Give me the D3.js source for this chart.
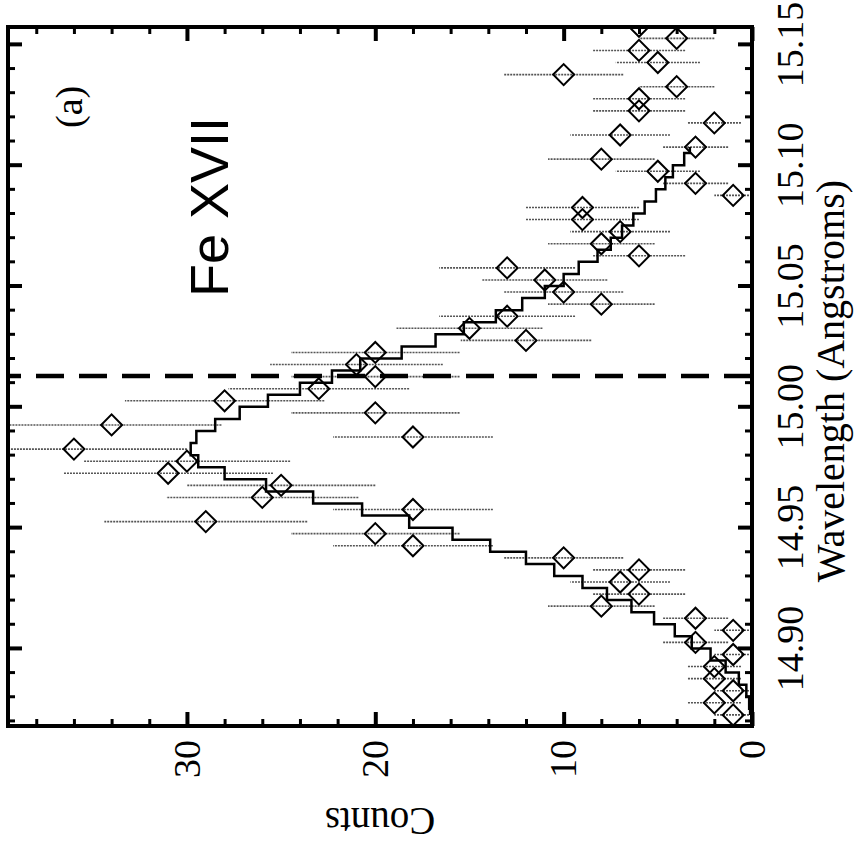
<!DOCTYPE html>
<html>
<head>
<meta charset="utf-8">
<script src="https://cdn.jsdelivr.net/npm/d3@7"></script>
<style>
  body { margin: 0; background: #fff; }
  svg { display: block; }
</style>
</head>
<body>
<svg id="chart" width="856" height="848"></svg>
<script>
// measured spectrum bins (Angstroms) and observed counts
const wavelengths = [
  14.8727, 14.8777, 14.8827, 14.8877, 14.8927, 14.8977, 14.9027, 14.9077, 14.9127, 14.9177,
  14.9227, 14.9277, 14.9327, 14.9377, 14.9427, 14.9477, 14.9527, 14.9577, 14.9627, 14.9677,
  14.9727, 14.9777, 14.9827, 14.9877, 14.9927, 14.9977, 15.0027, 15.0077, 15.0127, 15.0177,
  15.0227, 15.0277, 15.0327, 15.0377, 15.0427, 15.0477, 15.0527, 15.0577, 15.0627, 15.0677,
  15.0727, 15.0777, 15.0827, 15.0877, 15.0927, 15.0977, 15.1027, 15.1077, 15.1127, 15.1177,
  15.1227, 15.1277, 15.1327, 15.1377, 15.1427, 15.1477, 15.1527, 15.1577
];
const counts = [
  1, 2, 1, 2, 2, 1, 3, 1, 3, 8,
  6, 7, 6, 10, 18, 20, 29, 18, 26, 25,
  31, 30, 36, 18, 34, 20, 28, 23, 20, 21,
  20, 12, 15, 13, 8, 10, 11, 13, 6, 8,
  7, 9, 9, 1, 3, 5, 8, 3, 7, 2,
  6, 6, 4, 10, 5, 6, 4, 6
];
// model histogram (same bins, first 48)
const modelCounts = [
  0.1, 0.15, 0.3, 0.7, 1.4, 2.2, 3.2, 4.1, 5.2, 6.4,
  7.7, 9.0, 10.5, 12.0, 13.9, 15.9, 18.2, 20.7, 23.3, 25.8,
  28.0, 29.4, 29.8, 29.5, 28.5, 27.2, 25.7, 24.0, 22.3, 20.8,
  18.6, 16.8, 15.3, 13.6, 12.2, 11.0, 10.0, 9.2, 8.2, 7.5,
  6.9, 6.3, 5.7, 5.1, 4.6, 4.2, 3.6, 3.3
];
const lineCenter = 15.013;
const waveMajorTicks = [14.90, 14.95, 15.00, 15.05, 15.10, 15.15];
const waveMinorTicks = [14.87, 14.88, 14.89, 14.91, 14.92, 14.93, 14.94, 14.96, 14.97, 14.98, 14.99,
  15.01, 15.02, 15.03, 15.04, 15.06, 15.07, 15.08, 15.09, 15.11, 15.12, 15.13, 15.14];
const countMajorTicks = [0, 10, 20, 30];
const countMinorTicks = [2, 4, 6, 8, 12, 14, 16, 18, 22, 24, 26, 28, 32, 34, 36, 38];

const W = 699;
const H = 744;
const serif = "'Liberation Serif', 'Times New Roman', serif";
const sans = "'Liberation Sans', Arial, sans-serif";

const svg = d3.select("#chart");
svg.append("rect").attr("width", 856).attr("height", 848).attr("fill", "#fff");

// the whole figure is drawn upright, then turned a quarter left
const g = svg.append("g").attr("transform", "translate(8,726) rotate(-90)");

const x = d3.scaleLinear().domain([14.8681, 15.1574]).range([0, W]);
const y = d3.scaleLinear().domain([0, 39.5]).range([H, 0]);

g.append("clipPath")
  .attr("id", "plotClip")
  .append("rect")
  .attr("width", W)
  .attr("height", H);

function drawAxis(axis, transform, values, size, width, labels) {
  const a = g.append("g")
    .attr("transform", transform)
    .call(axis.tickValues(values).tickSize(-size).tickPadding(labels ? labels.pad : 0)
      .tickFormat(labels ? labels.format : ""));
  a.select(".domain").remove();
  a.selectAll(".tick line").attr("stroke", "#000").attr("stroke-width", width);
  a.selectAll(".tick text")
    .attr("fill", "#000")
    .style("font-family", serif)
    .style("font-size", "38px");
  return a;
}

// wavelength axis (bottom) + mirror (top)
drawAxis(d3.axisBottom(x), `translate(0,${H})`, waveMajorTicks, 14, 4, { pad: 24, format: d3.format(".2f") });
drawAxis(d3.axisBottom(x), `translate(0,${H})`, waveMinorTicks, 7, 3);
drawAxis(d3.axisTop(x), "translate(0,0)", waveMajorTicks, 14, 4);
drawAxis(d3.axisTop(x), "translate(0,0)", waveMinorTicks, 7, 3);

// counts axis (left) + mirror (right)
drawAxis(d3.axisLeft(y), "translate(0,0)", countMajorTicks, 14, 4, { pad: 14, format: d3.format("d") });
drawAxis(d3.axisLeft(y), "translate(0,0)", countMinorTicks, 7, 3);
drawAxis(d3.axisRight(y), `translate(${W},0)`, countMajorTicks, 14, 4);
drawAxis(d3.axisRight(y), `translate(${W},0)`, countMinorTicks, 7, 3);

const data = wavelengths.map((w, i) => ({ w, c: counts[i] }));
const model = modelCounts.map((c, i) => ({ w: wavelengths[i], c }));

const plot = g.append("g").attr("clip-path", "url(#plotClip)");

// error bars (sqrt N)
plot.selectAll("line.err")
  .data(data)
  .enter()
  .append("line")
  .attr("class", "err")
  .attr("x1", d => x(d.w))
  .attr("x2", d => x(d.w))
  .attr("y1", d => y(d.c - Math.sqrt(d.c)))
  .attr("y2", d => y(d.c + Math.sqrt(d.c)))
  .attr("stroke", "#555")
  .attr("stroke-width", 1.6)
  .attr("stroke-dasharray", "2,1");

// model step curve
plot.append("path")
  .datum(model)
  .attr("d", d3.line().x(d => x(d.w)).y(d => y(d.c)).curve(d3.curveStep))
  .attr("fill", "none")
  .attr("stroke", "#000")
  .attr("stroke-width", 2.5);

// rest wavelength marker
plot.append("line")
  .attr("x1", x(lineCenter))
  .attr("x2", x(lineCenter))
  .attr("y1", y(0))
  .attr("y2", y(39.5))
  .attr("stroke", "#000")
  .attr("stroke-width", 4.5)
  .attr("stroke-dasharray", "28,15");

// diamonds
const diamond = d3.symbol().type(d3.symbolSquare).size(220);
plot.selectAll("path.pt")
  .data(data)
  .enter()
  .append("path")
  .attr("class", "pt")
  .attr("d", diamond)
  .attr("transform", d => `translate(${x(d.w)},${y(d.c)}) rotate(45)`)
  .attr("fill", "none")
  .attr("stroke", "#000")
  .attr("stroke-width", 2);

// frame
g.append("rect")
  .attr("width", W)
  .attr("height", H)
  .attr("fill", "none")
  .attr("stroke", "#000")
  .attr("stroke-width", 4);

// labels
g.append("text")
  .attr("x", 345)
  .attr("y", 836)
  .attr("text-anchor", "middle")
  .style("font-family", serif)
  .style("font-size", "40px")
  .text("Wavelength (Angstroms)");

g.append("text")
  .attr("transform", `translate(-82,${H / 2}) rotate(-90)`)
  .attr("text-anchor", "middle")
  .style("font-family", serif)
  .style("font-size", "39px")
  .text("Counts");

g.append("text")
  .attr("x", 429)
  .attr("y", 220)
  .style("font-family", sans)
  .style("font-size", "54px")
  .text("Fe XVII");

g.append("text")
  .attr("x", 598)
  .attr("y", 74)
  .style("font-family", serif)
  .style("font-size", "38px")
  .text("(a)");
</script>
</body>
</html>
